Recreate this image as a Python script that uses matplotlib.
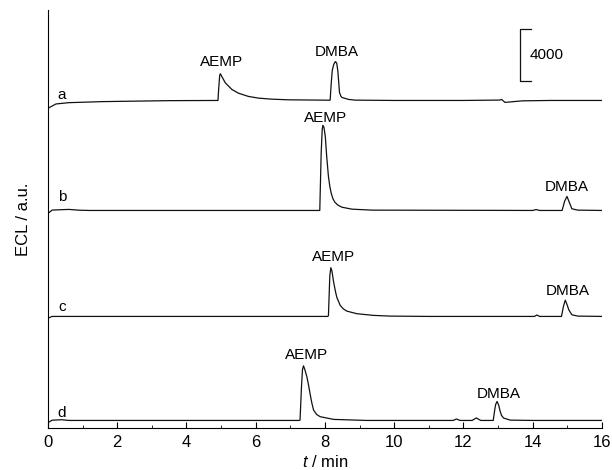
from matplotlib import pyplot as plt

plt.rcParams['font.family'] = ['Liberation Sans', 'DejaVu Sans']
plt.rcParams['mathtext.fontset'] = 'custom'
plt.rcParams['mathtext.rm'] = 'Liberation Sans'
plt.rcParams['mathtext.it'] = 'Liberation Sans:italic'

# electropherograms, time in min, ECL signal above each baseline (a.u.)
trace_names = ['a', 'b', 'c', 'd']
baselines = [25190, 16730, 8580, 580]

time_a = [0, 0.23, 0.6, 1.56, 3.5, 4.91, 4.93, 4.96, 4.98, 5.02, 5.12, 5.31,
          5.5, 5.79, 6.08, 6.46, 6.94, 8.12, 8.15, 8.18, 8.21, 8.25, 8.29,
          8.31, 8.34, 8.37, 8.4, 8.42, 8.46, 8.49, 8.68, 8.87, 10, 12, 13.05,
          13.1, 13.2, 13.4, 13.7, 14.5, 16]
signal_a = [-600, -270, -170, -90, -15, 0, 900, 1950, 2050, 1850, 1360, 850,
            560, 310, 180, 100, 50, 20, 30, 1300, 2300, 2750, 2960,
            2980, 2850, 2300, 1300, 600, 330, 230, 80, 25, 0, 0, 30,
            80, -150, -100, -30, 0, 0]

time_b = [0, 0.12, 0.6, 0.9, 1.2, 6.6, 7.85, 7.89, 7.92, 7.94, 7.97, 8.01,
          8.05, 8.1, 8.14, 8.18, 8.23, 8.29, 8.38, 8.49, 8.78, 9.36, 14.0,
          14.1, 14.2, 14.85, 14.92, 14.99, 15.06, 15.13, 15.3, 16]
signal_b = [-230, 30, 80, 20, 0, 0, 0, 4400, 6230, 6550, 6400, 5690,
            4150, 2620, 1850, 1330, 900, 620, 400, 250, 100, 25, 0,
            70, 0, 0, 700, 1080, 600, 130, 25, 0]

time_c = [0, 0.12, 8.08, 8.1, 8.12, 8.14, 8.17, 8.2, 8.25, 8.3, 8.34, 8.44,
          8.53, 8.63, 8.92, 9.4, 9.88, 11, 14.05, 14.12, 14.2, 14.83, 14.89,
          14.94, 15.0, 15.04, 15.13, 15.3, 16]
signal_c = [-130, 0, 0, 50, 1600, 3150, 3750, 3500, 2640, 1960, 1480, 850,
            580, 410, 210, 80, 25, 0, 0, 110, 0, 0, 800,
            1250, 850, 520, 130, 25, 0]

time_d = [0, 0.12, 0.4, 0.6, 7.26, 7.28, 7.32, 7.35, 7.38, 7.42, 7.48, 7.53,
          7.57, 7.62, 7.67, 7.76, 7.86, 8.25, 9.2, 11.7, 11.8, 11.9, 12.25,
          12.37, 12.5, 12.86, 12.9, 12.93, 12.97, 13.02, 13.06, 13.1, 13.16,
          13.35, 14, 16]
signal_d = [-170, 20, 55, 0, 0, 30, 2500, 3900, 4200, 3900, 3330, 2650,
            2050, 1350, 800, 460, 290, 80, 0, 0, 110, 0, 0,
            190, 0, 0, 770, 1230, 1460, 1150, 700, 380, 180,
            25, 0, 0]

times = [time_a, time_b, time_c, time_d]
signals = [signal_a, signal_b, signal_c, signal_d]

# peak labels: (name, time, height)
peak_labels = [
    ('AEMP', 5.0, 28150), ('DMBA', 8.34, 28880),
    ('AEMP', 8.03, 23850), ('DMBA', 14.97, 18540),
    ('AEMP', 8.24, 13120), ('DMBA', 15.01, 10540),
    ('AEMP', 7.46, 5615), ('DMBA', 13.02, 2650),
]
trace_label_time = 0.4
trace_label_heights = [25310, 17420, 9000, 870]

scale_bar_value = 4000
scale_bar_bottom = 26700
scale_bar_time = 13.64


def draw_traces(ax):
    for t, s, base in zip(times, signals, baselines):
        ax.plot(t, [v + base for v in s], color='#111111', lw=0.9)
    for name, t, y in peak_labels:
        ax.text(t, y, name, fontsize=11, ha='center', va='center')
    for name, y in zip(trace_names, trace_label_heights):
        ax.text(trace_label_time, y, name, fontsize=11, ha='center',
                va='baseline')


def draw_scale_bar(ax):
    top = scale_bar_bottom + scale_bar_value
    x0 = scale_bar_time
    x1 = scale_bar_time + 0.32
    ax.plot([x1, x0, x0, x1], [top, top, scale_bar_bottom, scale_bar_bottom],
            color='#111111', lw=0.9)
    ax.text(x1 - 0.05, scale_bar_bottom + scale_bar_value / 2,
            str(scale_bar_value), fontsize=11, ha='left', va='center')


fig = plt.figure(figsize=(6.12, 4.70), dpi=100)
ax = fig.add_axes([0.0784, 0.0894, 0.9052, 0.8894])
draw_traces(ax)
draw_scale_bar(ax)

ax.set_xlim(0, 16)
ax.set_ylim(0, 32150)
ax.set_xticks(range(0, 17, 2))
ax.set_xticks(range(0, 17, 1), minor=True)
ax.set_yticks([])
ax.tick_params(axis='x', which='major', direction='in', length=4,
               labelsize=12, pad=5)
ax.tick_params(axis='x', which='minor', direction='in', length=2.5)
ax.spines['top'].set_visible(False)
ax.spines['right'].set_visible(False)
ax.set_xlabel('$t$ / min', fontsize=12, labelpad=3)
ax.set_ylabel('ECL / a.u.', fontsize=12, labelpad=12)

fig.savefig('out.png', dpi=100)
